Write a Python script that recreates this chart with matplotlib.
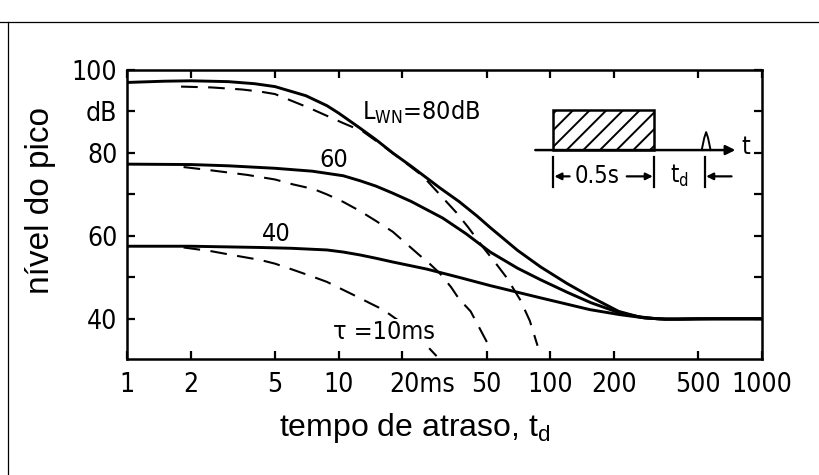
import matplotlib
matplotlib.use('Agg')
import matplotlib.pyplot as plt
import matplotlib.transforms as mtransforms
from matplotlib.patches import Rectangle
from matplotlib.lines import Line2D
from matplotlib import font_manager

# fontes
nomes = {f.name for f in font_manager.fontManager.ttflist}
estreita = 'Liberation Sans Narrow' if 'Liberation Sans Narrow' in nomes else 'DejaVu Sans'
plt.rcParams['font.family'] = [estreita, 'DejaVu Sans']
plt.rcParams['font.stretch'] = 'condensed'
plt.rcParams['mathtext.fontset'] = 'custom'
plt.rcParams['mathtext.rm'] = 'Liberation Sans'
plt.rcParams['mathtext.sf'] = 'DejaVu Sans:stretch=condensed'
plt.rcParams['hatch.linewidth'] = 1.4

# dados (tempo de atraso em ms, nível em dB)
t80 = [1, 1.5, 2, 3, 4, 5, 7, 8.8, 10, 12.6, 15, 18, 22, 26, 30, 37, 45, 52, 70, 90, 120, 155, 210, 260, 320, 400, 600, 1000]
L80 = [97.0, 97.3, 97.4, 97.2, 96.7, 96.0, 93.8, 91.4, 89.6, 86.0, 83.2, 80.0, 76.8, 74.0, 71.6, 68.3, 64.8, 62.0, 56.5, 52.5, 48.5, 45.3, 41.8, 40.5, 40.0, 39.9, 40.0, 40.0]
t80_tau = [1.8, 2.5, 3.5, 4.25, 5, 7.3, 10.5, 13, 16, 20, 25, 30, 36, 41, 48, 55, 62, 72, 80, 87]
L80_tau = [96.0, 95.8, 95.3, 94.8, 94.2, 90.8, 87.2, 85.2, 81.9, 78.2, 74.4, 70.0, 65.6, 62.0, 57.3, 53.5, 50.0, 44.6, 39.5, 33.5]

t60 = [1, 2, 3, 5, 7.5, 10.5, 12.6, 15, 18, 22, 31, 40, 52, 70, 90, 120, 155, 213, 280, 350, 500, 1000]
L60 = [77.3, 77.2, 76.9, 76.3, 75.6, 74.5, 73.3, 72.0, 70.3, 68.3, 64.3, 60.5, 56.1, 52.2, 49.4, 46.4, 43.9, 41.4, 40.2, 39.9, 40.0, 40.0]
t60_tau = [1.85, 2.5, 3.7, 5, 6.1, 7.6, 8.8, 10.5, 12.6, 15, 18, 21, 24, 27, 30, 34, 37, 42, 46, 50, 52]
L60_tau = [76.6, 75.8, 74.7, 73.6, 72.4, 71.3, 70.0, 68.2, 66.0, 63.6, 61.0, 58.0, 55.4, 53.2, 51.0, 47.6, 44.8, 41.8, 38.0, 34.5, 33.0]

t40 = [1, 2, 4.25, 6, 8.8, 10.5, 12.6, 15, 18, 26, 37, 52, 89, 154, 213, 280, 350, 500, 1000]
L40 = [57.5, 57.5, 57.2, 57.0, 56.6, 56.1, 55.4, 54.6, 53.7, 52.0, 50.0, 48.0, 45.1, 42.2, 41.0, 40.2, 39.9, 40.0, 40.0]
t40_tau = [1.85, 2.5, 3.2, 4.25, 5, 6.1, 7.5, 8.8, 10, 11.7, 14, 16.2, 19, 22, 25, 29]
L40_tau = [57.2, 56.3, 55.3, 54.2, 53.3, 51.8, 50.2, 48.9, 47.5, 45.8, 43.8, 42.2, 39.7, 37.0, 34.5, 31.0]

xticks = [1, 2, 5, 10, 20, 50, 100, 200, 500, 1000]
xticklabels = ['1', '2', '5', '10', '20ms', '50', '100', '200', '500', '1000']
yticks = [40, 50, 60, 70, 80, 90, 100]
yticklabels = ['40', '', '60', '', '80', 'dB', '100']

fig = plt.figure(figsize=(8.2, 4.75), dpi=100)
ax = fig.add_axes([0.1549, 0.2442, 0.7744, 0.6084])

# curvas
for t, L in [(t80, L80), (t60, L60), (t40, L40)]:
    ax.plot(t, L, color='k', lw=2.1, solid_capstyle='round', solid_joinstyle='round')
for t, L in [(t80_tau, L80_tau), (t60_tau, L60_tau), (t40_tau, L40_tau)]:
    ax.plot(t, L, color='k', lw=1.5, dashes=(8, 5))

ax.set_xscale('log')
ax.set_xlim(1, 1000)
ax.set_ylim(30.3, 100)
ax.set_xticks(xticks)
ax.set_xticklabels(xticklabels)
ax.xaxis.set_minor_locator(matplotlib.ticker.NullLocator())
ax.set_yticks(yticks)
ax.set_yticklabels(yticklabels)
ax.tick_params(direction='in', length=6, width=1.6, labelsize=19, top=True, right=True, pad=9)
ax.tick_params(axis='y', pad=7)
for s in ax.spines.values():
    s.set_linewidth(1.8)

# "20ms": o "20" fica centrado no traço
for lab in ax.get_xticklabels():
    if lab.get_text() == '20ms':
        lab.set_ha('left')
        lab.set_transform(lab.get_transform() + mtransforms.ScaledTranslation(-0.13, 0, fig.dpi_scale_trans))

# rótulos das curvas
ax.text(12.9, 88.0, r'L$_\mathsf{WN}$=80dB', fontsize=18, va='baseline', ha='left')
ax.text(9.5, 78.3, '60', fontsize=18, va='center', ha='center')
ax.text(5.1, 60.5, '40', fontsize=18, va='center', ha='center')
ax.text(16.4, 36.9, 'τ =10ms', fontsize=18, va='center', ha='center',
        bbox=dict(facecolor='white', edgecolor='none', pad=0.5))

# esquema do pulso
tr = ax.transAxes
ax.add_patch(Rectangle((0.671, 0.723), 0.159, 0.139, transform=tr, fill=False, hatch='//', lw=1.8))
ax.annotate('', xy=(0.958, 0.723), xytext=(0.643, 0.723), xycoords='axes fraction',
            arrowprops=dict(arrowstyle='-|>', lw=1.8, color='k', mutation_scale=14, shrinkA=0, shrinkB=0))
ax.plot([0.905, 0.909, 0.912, 0.915, 0.919], [0.723, 0.765, 0.785, 0.765, 0.723], color='k', lw=1.4, transform=tr)
ax.text(0.975, 0.733, 't', transform=tr, fontsize=18, va='center', ha='center')
for xb in [0.671, 0.830, 0.910]:
    ax.plot([xb, xb], [0.595, 0.699], color='k', lw=1.6, transform=tr)
for x0, x1 in [(0.697, 0.673), (0.787, 0.828), (0.952, 0.912)]:
    ax.annotate('', xy=(x1, 0.632), xytext=(x0, 0.632), xycoords='axes fraction',
                arrowprops=dict(arrowstyle='-|>', lw=1.6, color='k', mutation_scale=10, shrinkA=0, shrinkB=0))
ax.text(0.741, 0.632, '0.5s', transform=tr, fontsize=17, va='center', ha='center')
ax.text(0.870, 0.632, r't$_\mathsf{d}$', transform=tr, fontsize=17, va='center', ha='center')

# títulos dos eixos
fig.text(41 / 820, 1 - 200 / 475, 'nível do pico', rotation=90, fontsize=24,
         family='Liberation Sans', stretch='normal', va='center', ha='center')
fig.text(415 / 820, 1 - 428 / 475, r'tempo de atraso, t$_\mathrm{d}$', fontsize=23,
         family='Liberation Sans', stretch='normal', va='center', ha='center')

# moldura da digitalização
fig.add_artist(Line2D([0, 1], [1 - 22 / 475, 1 - 22 / 475], transform=fig.transFigure, color='k', lw=0.9))
fig.add_artist(Line2D([8 / 820, 8 / 820], [0, 1 - 22 / 475], transform=fig.transFigure, color='k', lw=0.9))

fig.savefig('out.png', dpi=100, facecolor='white')
